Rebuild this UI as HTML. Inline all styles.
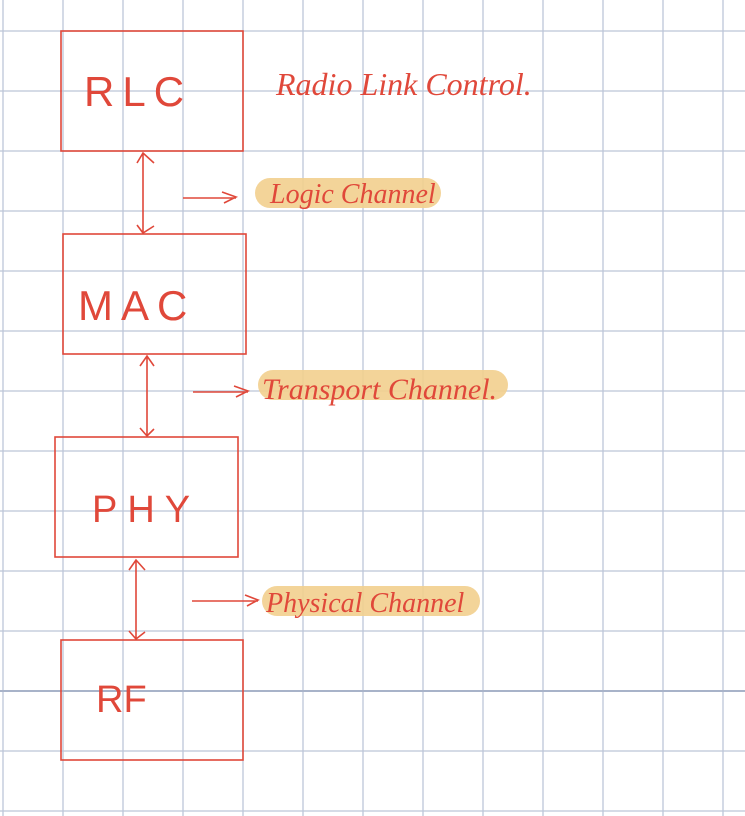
<!DOCTYPE html>
<html><head><style>
html,body{margin:0;padding:0;background:#fff;width:745px;height:816px;overflow:hidden}
svg{display:block}
text{font-family:"Liberation Serif",serif;font-style:italic;fill:#e0483a}
text.b{font-family:"Liberation Sans",sans-serif;font-style:normal;font-weight:normal}
</style></head><body>
<svg width="745" height="816" viewBox="0 0 745 816" xmlns="http://www.w3.org/2000/svg">
<g stroke="#bcc5d8" stroke-width="1.3">
<line x1="3" y1="0" x2="3" y2="816"/><line x1="63" y1="0" x2="63" y2="816"/><line x1="123" y1="0" x2="123" y2="816"/><line x1="183" y1="0" x2="183" y2="816"/><line x1="243" y1="0" x2="243" y2="816"/><line x1="303" y1="0" x2="303" y2="816"/><line x1="363" y1="0" x2="363" y2="816"/><line x1="423" y1="0" x2="423" y2="816"/><line x1="483" y1="0" x2="483" y2="816"/><line x1="543" y1="0" x2="543" y2="816"/><line x1="603" y1="0" x2="603" y2="816"/><line x1="663" y1="0" x2="663" y2="816"/><line x1="723" y1="0" x2="723" y2="816"/>
<line x1="0" y1="31" x2="745" y2="31"/><line x1="0" y1="91" x2="745" y2="91"/><line x1="0" y1="151" x2="745" y2="151"/><line x1="0" y1="211" x2="745" y2="211"/><line x1="0" y1="271" x2="745" y2="271"/><line x1="0" y1="331" x2="745" y2="331"/><line x1="0" y1="391" x2="745" y2="391"/><line x1="0" y1="451" x2="745" y2="451"/><line x1="0" y1="511" x2="745" y2="511"/><line x1="0" y1="571" x2="745" y2="571"/><line x1="0" y1="631" x2="745" y2="631"/><line x1="0" y1="751" x2="745" y2="751"/><line x1="0" y1="811" x2="745" y2="811"/>
<line x1="0" y1="691" x2="745" y2="691" stroke="#a8b3c9" stroke-width="2"/>
</g>
<g fill="#f2cf8e" opacity="0.9">
<rect x="255" y="178" width="186" height="30" rx="15"/>
<rect x="258" y="370" width="250" height="30" rx="15"/>
<rect x="262" y="586" width="218" height="30" rx="15"/>
</g>
<g fill="none" stroke="#e0483a" stroke-width="1.6">
<rect x="61" y="31" width="182" height="120"/>
<rect x="63" y="234" width="183" height="120"/>
<rect x="55" y="437" width="183" height="120"/>
<rect x="61" y="640" width="182" height="120"/>
<path d="M143 153 V233 M137 163 L143 153 L154 163 M137 225 L143 233 L154 226"/>
<path d="M147 356 V436 M140 366 L147 356 L154 366 M140 428 L147 436 L154 429"/>
<path d="M136 560 V639 M129 570 L136 560 L145 570 M129 631 L136 639 L145 632"/>
<path d="M183 198 H236 M222 192 L236 197 L224 203"/>
<path d="M193 392 H248 M234 386 L248 391 L236 397"/>
<path d="M192 601 H258 M245 595 L258 600 L247 606"/>
</g>
<text class="b" x="84" y="106" font-size="42" letter-spacing="8">RLC</text>
<text class="b" x="78" y="320" font-size="42" letter-spacing="8">MAC</text>
<text class="b" x="92" y="522" font-size="38" letter-spacing="10">PHY</text>
<text class="b" x="96" y="712" font-size="38">RF</text>
<text x="276" y="95" font-size="32">Radio Link Control.</text>
<text x="270" y="203" font-size="28">Logic Channel</text>
<text x="262" y="399" font-size="30">Transport Channel.</text>
<text x="266" y="612" font-size="28">Physical Channel</text>
</svg>
</body></html>
